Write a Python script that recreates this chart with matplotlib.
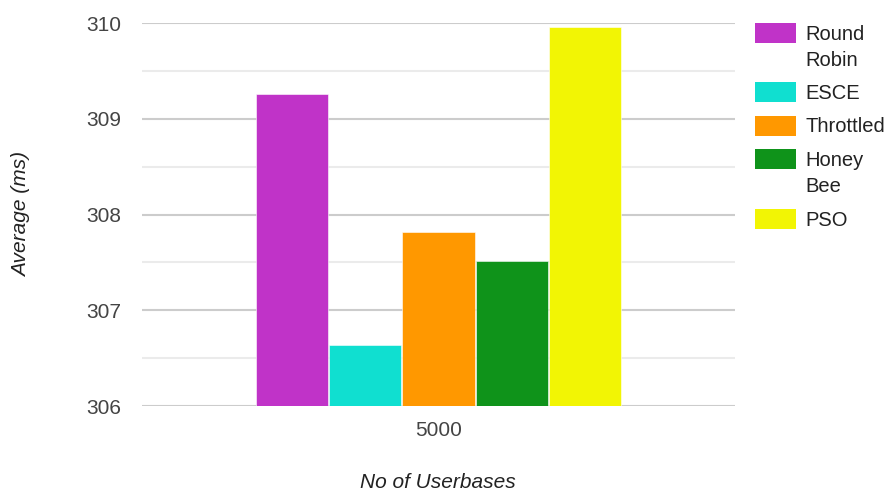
import matplotlib.pyplot as plt
from matplotlib.patches import Rectangle

# Average response time for 5000 userbases, one bar per algorithm
category = ["5000"]
algorithms = ["Round\nRobin", "ESCE", "Throttled", "Honey\nBee", "PSO"]
average_ms = [309.26, 306.64, 307.82, 307.51, 309.96]
colors = ["#c033c8", "#10dfd0", "#ff9800", "#0f931a", "#f2f504"]

plt.rcParams["font.family"] = ["Liberation Sans", "DejaVu Sans"]

fig = plt.figure(figsize=(8.9, 4.94), dpi=100)
ax = fig.add_axes([142 / 890, 1 - 406 / 494, 593 / 890, 383 / 494])

slot = 0.1236
for i, (name, val, c) in enumerate(zip(algorithms, average_ms, colors)):
    x = (i - 2) * slot
    ax.bar(x, val - 306, bottom=306, width=slot - 0.002, color=c,
           edgecolor="white", linewidth=0.4, zorder=3)

ax.set_xlim(-0.5, 0.5)
ax.set_ylim(306, 310)
ax.set_yticks([306, 307, 308, 309, 310])
ax.set_yticks([306.5, 307.5, 308.5, 309.5], minor=True)
ax.set_xticks([0])
ax.set_xticklabels(category)

ax.grid(axis="y", which="major", color="#cccccc", linewidth=1.5, zorder=0)
ax.grid(axis="y", which="minor", color="#ebebeb", linewidth=1.5, zorder=0)
ax.tick_params(axis="both", which="both", length=0, labelsize=15,
               labelcolor="#444444")
ax.tick_params(axis="y", pad=15)
ax.tick_params(axis="x", pad=11)
for s in ax.spines.values():
    s.set_visible(False)

# Axis titles
fig.text(22 / 890, 1 - 214 / 494, "Average (ms)", rotation=90, fontsize=15,
         style="italic", color="#222222", ha="center", va="center")
fig.text(438 / 890, 1 - 482 / 494, "No of Userbases", fontsize=15,
         style="italic", color="#222222", ha="center", va="center")

# Legend on the right, boxes aligned with the first line of each label
y = 33
for name, c in zip(algorithms, colors):
    fig.patches.append(Rectangle((755 / 890, 1 - (y + 10) / 494), 41 / 890,
                                 20 / 494, transform=fig.transFigure,
                                 facecolor=c, edgecolor="none"))
    for j, line in enumerate(name.split("\n")):
        fig.text(805 / 890, 1 - (y - 1 + 26 * j) / 494, line, fontsize=14.5,
                 color="#222222", va="center_baseline", ha="left")
    y += 33.5 + 26 * name.count("\n")

fig.savefig("out.png", dpi=100)
